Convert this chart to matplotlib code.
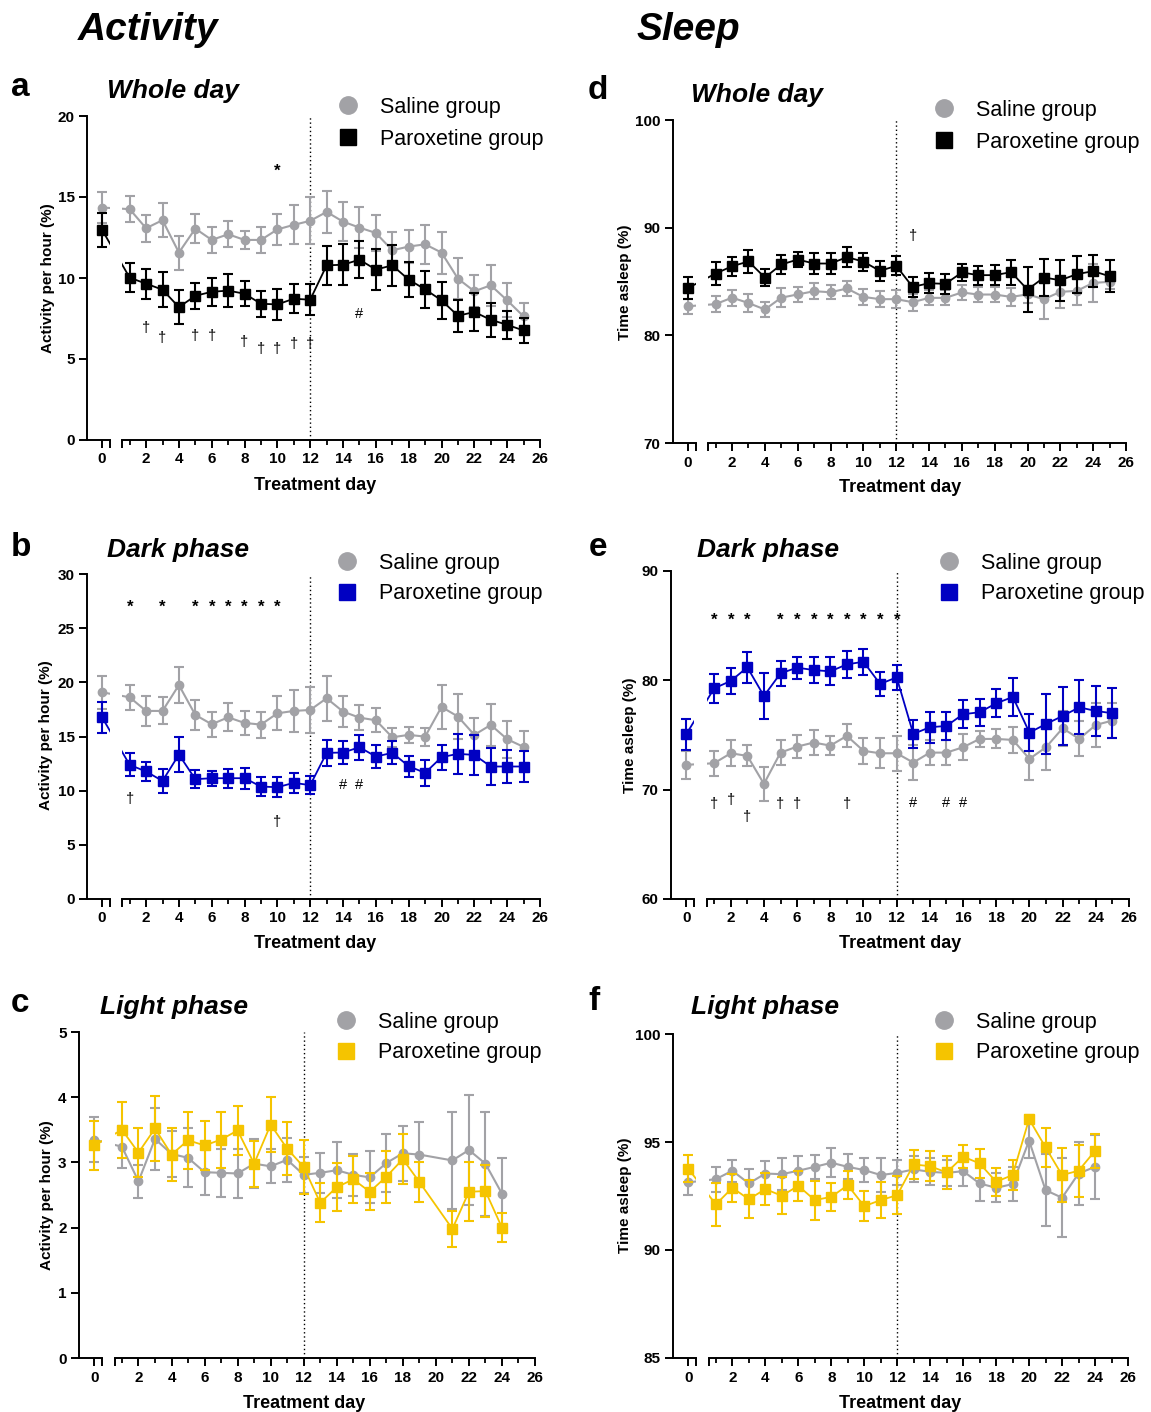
import numpy as np
import matplotlib
matplotlib.use("Agg")
import matplotlib.pyplot as plt
from matplotlib.lines import Line2D

plt.rcParams['font.family'] = ['Liberation Sans', 'DejaVu Sans']

# ---------------- data (mean, SEM) ----------------
days = list(range(26))
days_c = list(range(20)) + [21, 22, 23, 24]      # no day 20 in light-phase activity
days_f = list(range(25))

# a: activity, whole day
a_sal = [14.35, 14.25, 13.07, 13.57, 11.57, 13.05, 12.35, 12.7, 12.35, 12.35, 13.0, 13.28, 13.53,
         14.08, 13.48, 13.11, 12.78, 11.71, 11.94, 12.08, 11.57, 9.96, 9.18, 9.55, 8.62, 7.63]
a_sal_err = [0.95, 0.8, 0.83, 1.05, 1.05, 0.9, 0.8, 0.8, 0.55, 0.78, 0.95, 1.2, 1.45,
             1.3, 1.2, 1.25, 1.1, 1.1, 1.0, 1.2, 1.3, 1.28, 1.0, 1.25, 1.05, 0.82]
a_par = [12.97, 10.02, 9.65, 9.28, 8.2, 8.9, 9.15, 9.22, 9.03, 8.41, 8.37, 8.72, 8.66,
         10.78, 10.82, 11.13, 10.52, 10.78, 9.9, 9.3, 8.62, 7.67, 7.9, 7.42, 7.11, 6.76]
a_par_err = [1.05, 0.9, 0.93, 1.1, 1.05, 0.8, 0.85, 1.0, 0.77, 0.8, 0.95, 0.9, 0.95,
             1.2, 1.28, 1.15, 1.25, 1.25, 1.08, 1.15, 1.15, 1.0, 1.15, 1.05, 0.87, 0.78]

# b: activity, dark phase
b_sal = [19.08, 18.62, 17.36, 17.36, 19.75, 16.99, 16.13, 16.77, 16.25, 16.1, 17.14, 17.36, 17.45,
         18.53, 17.3, 16.74, 16.5, 14.93, 15.15, 14.99, 17.73, 16.84, 15.15, 16.07, 14.75, 14.04]
b_sal_err = [1.5, 1.15, 1.4, 1.25, 1.65, 1.35, 1.15, 1.28, 1.08, 1.2, 1.58, 1.93, 2.15,
             2.1, 1.45, 1.18, 1.1, 0.9, 0.77, 0.83, 2.07, 2.1, 1.6, 1.95, 1.7, 1.5]
b_par = [16.77, 12.38, 11.77, 10.9, 13.33, 11.06, 11.15, 11.15, 11.15, 10.38, 10.32, 10.72, 10.51,
         13.49, 13.52, 14.01, 13.15, 13.49, 12.26, 11.64, 13.09, 13.4, 13.3, 12.23, 12.23, 12.23]
b_par_err = [1.45, 1.06, 0.9, 1.1, 1.6, 0.82, 0.7, 0.87, 0.97, 0.87, 0.95, 0.92, 0.86,
             1.18, 1.05, 1.14, 1.03, 1.05, 0.97, 1.2, 1.17, 1.85, 1.86, 1.7, 1.5, 1.46]

# c: activity, light phase
c_sal = [3.35, 3.24, 2.71, 3.36, 3.13, 3.07, 2.85, 2.84, 2.83, 2.98, 2.94, 3.04, 2.81,
         2.84, 2.88, 2.81, 2.77, 2.99, 3.14, 3.12, 3.03, 3.19, 2.98, 2.52]
c_sal_err = [0.34, 0.32, 0.25, 0.47, 0.35, 0.45, 0.35, 0.37, 0.37, 0.38, 0.26, 0.34, 0.28,
             0.31, 0.43, 0.32, 0.4, 0.45, 0.42, 0.5, 0.75, 0.84, 0.8, 0.55]
c_par = [3.26, 3.5, 3.15, 3.52, 3.12, 3.34, 3.26, 3.35, 3.49, 2.98, 3.58, 3.21, 2.93,
         2.38, 2.62, 2.74, 2.55, 2.78, 3.05, 2.7, 1.98, 2.55, 2.56, 2.0]
c_par_err = [0.37, 0.43, 0.37, 0.5, 0.41, 0.44, 0.38, 0.43, 0.37, 0.35, 0.42, 0.41, 0.42,
             0.3, 0.37, 0.36, 0.28, 0.4, 0.38, 0.3, 0.28, 0.45, 0.4, 0.22]

# d: sleep, whole day
d_sal = [82.7, 82.9, 83.5, 83.0, 82.4, 83.5, 83.8, 84.1, 84.0, 84.35, 83.57, 83.36, 83.36,
         83.08, 83.48, 83.48, 83.98, 83.79, 83.79, 83.57, 83.8, 83.36, 84.04, 84.13, 84.87, 84.97]
d_sal_err = [0.7, 0.72, 0.73, 0.8, 0.7, 0.85, 0.7, 0.77, 0.65, 0.7, 0.73, 0.72, 0.84,
             0.8, 0.7, 0.7, 0.7, 0.7, 0.7, 0.8, 0.8, 1.8, 1.5, 1.3, 1.8, 0.65]
d_par = [84.4, 85.74, 86.42, 86.86, 85.37, 86.58, 87.04, 86.67, 86.67, 87.26, 86.85, 85.99, 86.45,
         84.5, 84.84, 84.78, 85.84, 85.59, 85.59, 85.87, 84.25, 85.37, 85.12, 85.68, 85.96, 85.49]
d_par_err = [1.0, 1.08, 0.88, 1.05, 0.82, 0.85, 0.7, 1.0, 0.96, 0.9, 0.83, 0.95, 0.88,
             0.93, 0.95, 0.95, 0.82, 0.87, 0.95, 1.16, 2.1, 1.75, 1.9, 1.72, 1.5, 1.47]

# e: sleep, dark phase
e_sal = [72.27, 72.42, 73.33, 73.09, 70.53, 73.39, 73.94, 74.31, 74.03, 74.92, 73.55, 73.33, 73.33,
         72.48, 73.39, 73.39, 73.88, 74.64, 74.64, 74.55, 72.82, 73.88, 75.62, 74.64, 75.92, 76.32]
e_sal_err = [1.25, 1.15, 1.2, 0.97, 1.55, 1.14, 1.03, 1.18, 0.84, 1.05, 1.17, 1.35, 1.6,
             1.6, 1.14, 1.13, 1.17, 0.73, 0.87, 1.18, 1.9, 2.1, 1.6, 1.6, 2.0, 1.63]
e_par = [75.07, 79.27, 79.94, 81.19, 78.57, 80.64, 81.16, 80.94, 80.82, 81.46, 81.7, 79.67, 80.27,
         75.1, 75.71, 75.83, 76.9, 77.08, 77.9, 78.48, 75.22, 76.01, 76.74, 77.53, 77.2, 76.99]
e_par_err = [1.4, 1.3, 1.22, 1.4, 2.1, 1.16, 1.0, 1.18, 1.28, 1.24, 1.18, 1.12, 1.14,
             1.3, 1.4, 1.31, 1.26, 1.22, 1.27, 1.73, 1.67, 2.74, 2.66, 2.48, 2.28, 2.3]

# f: sleep, light phase
f_sal = [93.13, 93.28, 93.67, 93.08, 93.54, 93.51, 93.67, 93.85, 94.04, 93.85, 93.7, 93.47, 93.57,
         93.73, 93.62, 93.57, 93.65, 93.08, 92.88, 93.05, 95.06, 92.77, 92.42, 93.54, 93.85]
f_sal_err = [0.6, 0.58, 0.5, 0.66, 0.6, 0.75, 0.66, 0.56, 0.66, 0.58, 0.56, 0.8, 0.58,
             0.6, 0.63, 0.6, 0.7, 0.8, 0.67, 0.78, 0.8, 1.66, 1.82, 1.46, 1.47]
f_par = [93.77, 92.11, 92.88, 92.35, 92.82, 92.51, 92.97, 92.31, 92.46, 93.0, 92.03, 92.31, 92.54,
         93.96, 93.88, 93.59, 94.32, 94.01, 93.16, 93.47, 96.06, 94.75, 93.47, 93.67, 94.59]
f_par_err = [0.63, 0.98, 0.65, 0.87, 0.73, 0.86, 0.7, 0.9, 0.65, 0.66, 0.71, 0.84, 0.87,
             0.69, 0.7, 0.75, 0.52, 0.66, 0.65, 0.71, 0.2, 0.9, 1.26, 1.2, 0.8]

# significance marks: (symbol, days, y values)
a_marks = [('*', [10], [16.6]),
           ('†', [2, 3, 5, 6, 8, 9, 10, 11, 12], [6.9, 6.3, 6.4, 6.4, 6.05, 5.6, 5.6, 5.9, 5.9]),
           ('#', [15], [7.8])]
b_marks = [('*', [1, 3, 5, 6, 7, 8, 9, 10], [26.9] * 8),
           ('†', [1, 10], [9.25, 7.1]),
           ('#', [14, 15], [10.5, 10.5])]
d_marks = [('†', [13], [89.2])]
e_marks = [('*', [1, 2, 3, 5, 6, 7, 8, 9, 10, 11, 12], [85.5] * 11),
           ('†', [1, 2, 3, 5, 6, 9], [68.7, 69.1, 67.5, 68.7, 68.7, 68.7]),
           ('#', [13, 15, 16], [68.8] * 3)]

# ---------------- style ----------------
GRAY = '#A2A2A6'
BLACK = '#000000'
BLUE = '#0000C2'
YELLOW = '#F5C400'

W, H = 1151, 1412
fig = plt.figure(figsize=(W / 100, H / 100), dpi=100, facecolor='white')

# broken x axis: day 0 on a short left piece, days 1-26 on the right piece
GAP = 0.68
XL = (-0.92, 0.48)
XR = (0.56, 26)


def fwd(x):
    x = np.asarray(x, dtype=float)
    return np.where(x > 0.52, x + GAP, x)


def inv(x):
    x = np.asarray(x, dtype=float)
    return np.where(x > 0.52 + GAP, x - GAP, np.minimum(x, 0.52))


def fx(px):
    return px / W


def fy(py):
    return 1 - py / H


def bold_ticks(ax):
    for t in ax.get_xticklabels() + ax.get_yticklabels():
        t.set_fontweight('bold')


def panel(box, xd, sal, sal_err, par, par_err, color, ylim, yticks, marks):
    L, R, T, B = box
    s = (R - L) / (XR[1] + GAP - XL[0])
    wl = (XL[1] - XL[0]) * s
    xr0 = L + (XR[0] + GAP - XL[0]) * s
    axl = fig.add_axes([fx(L), fy(B), wl / W, (B - T) / H])
    axr = fig.add_axes([fx(xr0), fy(B), (R - xr0) / W, (B - T) / H])
    for ax in (axl, axr):
        ax.set_xscale('function', functions=(fwd, inv))
        ax.errorbar(xd, sal, yerr=sal_err, color=GRAY, marker='o', ms=6, lw=1.5,
                    elinewidth=1.5, capsize=3.6, capthick=1.5, zorder=2)
        ax.errorbar(xd, par, yerr=par_err, color=color, marker='s', ms=6.5, lw=1.3,
                    elinewidth=1.5, capsize=3.6, capthick=1.5, zorder=3)
        ax.set_ylim(ylim)
        ax.spines['top'].set_visible(False)
        ax.spines['right'].set_visible(False)
        for sp in ax.spines.values():
            sp.set_linewidth(1.4)
        ax.tick_params(which='major', direction='out', length=6, width=1.4,
                       labelsize=11, pad=3)
        ax.tick_params(which='minor', direction='out', length=3.5, width=1.3)
    axl.set_xlim(XL)
    axr.set_xlim(XR)
    axl.set_yticks(yticks)
    axl.set_yticklabels([str(v) for v in yticks])
    axl.set_xticks([0, XL[1]])
    axl.set_xticklabels(['0', ''])
    axr.spines['left'].set_visible(False)
    axr.set_yticks([])
    axr.set_xticks([XR[0]] + list(range(2, 27, 2)))
    axr.set_xticklabels([''] + [str(d) for d in range(2, 27, 2)])
    axr.set_xticks(list(range(1, 26, 2)), minor=True)
    bold_ticks(axl)
    bold_ticks(axr)
    axr.axvline(12, color='black', lw=1.0, ls=(0, (1, 2)), zorder=1)
    for sym, md, my in marks:
        for d, y in zip(md, my):
            size = 12 if sym == '*' else 10.5
            weight = 'bold' if sym == '*' else 'normal'
            axr.text(d, y, sym, ha='center', va='center', fontsize=size,
                     fontweight=weight, color='black')
    return axl, axr


def legend(x, y, color, spacing):
    handles = [Line2D([], [], ls='none', marker='o', ms=12.5, color=GRAY, label='Saline group'),
               Line2D([], [], ls='none', marker='s', ms=11.5, color=color, label='Paroxetine group')]
    fig.legend(handles=handles, loc='upper left', bbox_to_anchor=(fx(x), fy(y)),
               frameon=False, prop={'size': 15.5, 'weight': 'normal'},
               handlelength=1.0, handletextpad=1.0, labelspacing=spacing,
               borderpad=0, borderaxespad=0)


def label_text(x, y, txt, **kw):
    fig.text(fx(x), fy(y), txt, **kw)


# ---------------- panels ----------------
panel((87, 540, 116, 440), days, a_sal, a_sal_err, a_par, a_par_err, BLACK,
      (0, 20), [0, 5, 10, 15, 20], a_marks)
panel((87, 540, 574, 899), days, b_sal, b_sal_err, b_par, b_par_err, BLUE,
      (0, 30), [0, 5, 10, 15, 20, 25, 30], b_marks)
panel((79, 535, 1032, 1358), days_c, c_sal, c_sal_err, c_par, c_par_err, YELLOW,
      (0, 5), [0, 1, 2, 3, 4, 5], [])
panel((673, 1126, 120, 443), days, d_sal, d_sal_err, d_par, d_par_err, BLACK,
      (70, 100), [70, 80, 90, 100], d_marks)
panel((671, 1129, 571, 899), days, e_sal, e_sal_err, e_par, e_par_err, BLUE,
      (60, 90), [60, 70, 80, 90], e_marks)
panel((673, 1128, 1034, 1358), days_f, f_sal, f_sal_err, f_par, f_par_err, YELLOW,
      (85, 100), [85, 90, 95, 100], [])

legend(337, 97, BLACK, 0.51)
legend(336, 553, BLUE, 0.44)
legend(335, 1012, YELLOW, 0.44)
legend(933, 100, BLACK, 0.51)
legend(938, 553, BLUE, 0.44)
legend(933, 1012, YELLOW, 0.44)

# headers, panel letters, titles
label_text(78, 40, 'Activity', fontsize=28, fontweight='bold', style='italic', va='baseline')
label_text(637, 40, 'Sleep', fontsize=28, fontweight='bold', style='italic', va='baseline')

for ch, x, y in [('a', 11, 96), ('b', 11, 556), ('c', 11, 1012),
                 ('d', 588, 99), ('e', 589, 556), ('f', 588, 1010)]:
    label_text(x, y, ch, fontsize=24, fontweight='bold', va='baseline')

for t, x, y in [('Whole day', 107, 98), ('Dark phase', 107, 557), ('Light phase', 100, 1014),
                ('Whole day', 691, 102), ('Dark phase', 697, 557), ('Light phase', 691, 1014)]:
    label_text(x, y, t, fontsize=19, fontweight='bold', style='italic', va='baseline')

for x, y in [(315, 486), (315, 944), (304, 1403), (900, 488), (900, 944), (900, 1403)]:
    label_text(x, y, 'Treatment day', fontsize=13, fontweight='bold', ha='center', va='center')

for t, x, y in [('Activity per hour (%)', 48, 278), ('Activity per hour (%)', 46, 735),
                ('Activity per hour (%)', 47, 1195), ('Time asleep (%)', 625, 282),
                ('Time asleep (%)', 630, 735), ('Time asleep (%)', 625, 1195)]:
    label_text(x, y, t, fontsize=11, fontweight='bold', rotation=90, ha='center', va='center')

fig.savefig('out.png', dpi=100, facecolor='white')
